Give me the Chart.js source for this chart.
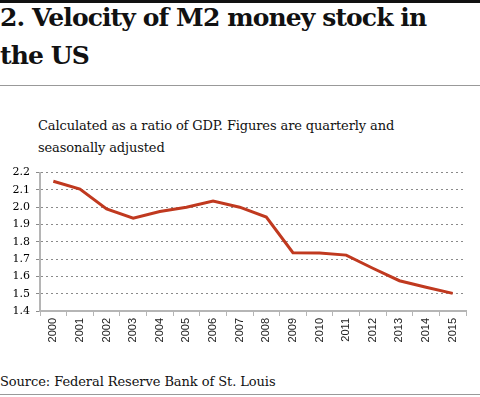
<!DOCTYPE html>
<html>
<head>
<meta charset="utf-8">
<script src="https://cdn.jsdelivr.net/npm/chart.js@4"></script>
<style>
  html, body { margin: 0; padding: 0; background: #fff; }
  #page { position: relative; width: 480px; height: 397px; overflow: hidden; font-family: 'DejaVu Serif', serif; color: #111; }
  #topRule { position: absolute; left: 0; top: 0; width: 480px; height: 3px; background: #111; }
  #title { position: absolute; left: 0; top: -1px; margin: 0; font: bold 25px/38px 'DejaVu Serif', serif; letter-spacing: -0.9px; white-space: nowrap; }
  #midRule { position: absolute; left: 0; top: 85px; width: 480px; height: 1px; background: #999; }
  #subtitle { position: absolute; left: 38px; top: 115px; font: 13px/22px 'DejaVu Serif', serif; letter-spacing: -0.12px; white-space: nowrap; }
  #source { position: absolute; left: 0; top: 373px; font: 13px/18px 'DejaVu Serif', serif; letter-spacing: -0.08px; }
  #botRule { position: absolute; left: 0; top: 394px; width: 480px; height: 1px; background: #999; }
  #wrap { position: absolute; left: 0; top: 160px; width: 480px; height: 195px; }
</style>
</head>
<body>
<div id="page">
  <div id="topRule"></div>
  <h1 id="title">2. Velocity of M2 money stock in<br>the US</h1>
  <div id="midRule"></div>
  <div id="subtitle">Calculated as a ratio of GDP. Figures are quarterly and<br>seasonally adjusted</div>
  <div id="wrap"><canvas id="chart"></canvas></div>
  <div id="source">Source: Federal Reserve Bank of St. Louis</div>
  <div id="botRule"></div>
</div>
<script>
'use strict';

// Chart data
const years = ['2000','2001','2002','2003','2004','2005','2006','2007',
               '2008','2009','2010','2011','2012','2013','2014','2015'];
const velocity = [2.15, 2.105, 1.99, 1.937, 1.975, 2.0, 2.035, 2.0,
                  1.943, 1.737, 1.735, 1.723, 1.647, 1.575, 1.537, 1.502];
const yTicks = [1.4, 1.5, 1.6, 1.7, 1.8, 1.9, 2.0, 2.1, 2.2];

new Chart(document.getElementById('chart'), {
  type: 'line',
  data: {
    labels: years,
    datasets: [{
      data: velocity,
      borderColor: '#c0391f',
      borderWidth: 3,
      pointRadius: 0,
      tension: 0,
      fill: false,
    }]
  },
  options: {
    responsive: true,
    maintainAspectRatio: false,
    animation: false,
    layout: { padding: { top: 12, right: 14, left: 0, bottom: 0 } },
    plugins: { legend: { display: false }, tooltip: { enabled: false } },
    scales: {
      x: {
        offset: true,
        grid: { offset: true, drawOnChartArea: false, drawTicks: true, tickLength: 5, color: '#b5b5b5' },
        border: { display: true, color: '#b5b5b5', width: 2 },
        ticks: {
          minRotation: 90, maxRotation: 90, autoSkip: false, padding: 2,
          color: '#222', font: { family: "'Liberation Sans', Arial, sans-serif", size: 11 }
        },
        afterFit: s => { s.height = 44; }
      },
      y: {
        min: 1.4, max: 2.2,
        afterBuildTicks: s => { s.ticks = yTicks.map(v => ({ value: v })); },
        grid: { color: '#8a8a8a', tickLength: 4, drawTicks: true, tickColor: '#8a8a8a' },
        border: { display: true, color: '#b5b5b5', width: 2, dash: [2, 3] },
        ticks: {
          autoSkip: false, padding: 6, color: '#000',
          font: { family: "'DejaVu Serif', serif", size: 11 },
          callback: v => v.toFixed(1)
        },
        afterFit: s => { s.width = 40; }
      }
    }
  }
});
</script>
</body>
</html>
